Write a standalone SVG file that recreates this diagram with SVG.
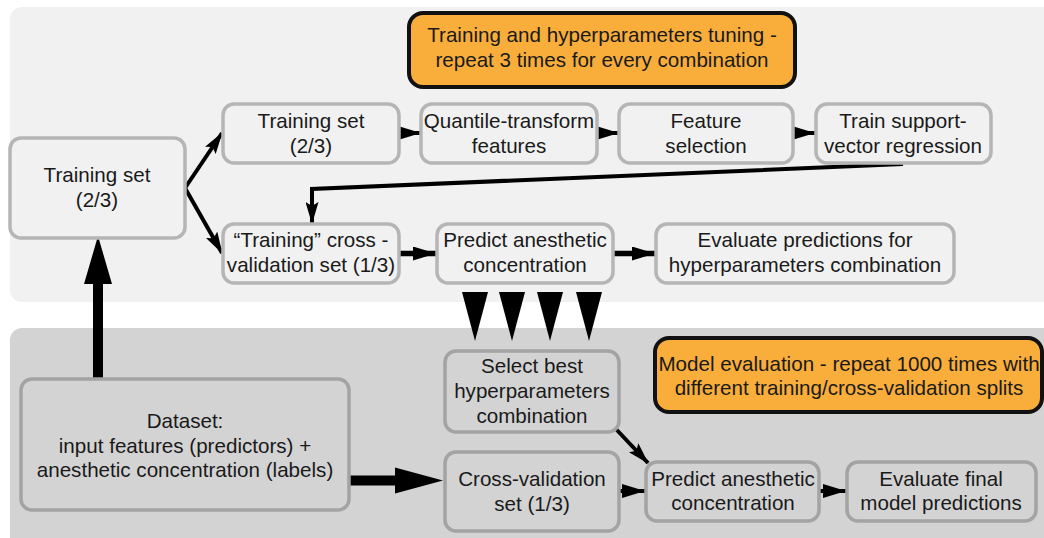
<svg xmlns="http://www.w3.org/2000/svg" width="1044" height="538" viewBox="0 0 1044 538">
  <defs>
    <style>
      text { font-family: "Liberation Sans", Arial, sans-serif; font-size: 20.6px; fill: #1a1a1a; text-anchor: middle; }
      .panel-top { fill: #f1f1f1; }
      .panel-bottom { fill: #d3d3d3; }
      .box-top { fill: #f1f1f1; stroke: #b5b5b5; stroke-width: 3.5; }
      .box-bottom { fill: #d3d3d3; stroke: #a3a3a3; stroke-width: 3.5; }
      .note { fill: #f9ae3c; stroke: #111111; stroke-width: 4; }
      .wire { fill: none; stroke: #000000; stroke-width: 4; }
      .wire-mid { fill: none; stroke: #000000; stroke-width: 5.5; }
      .solid { fill: #000000; stroke: none; }
    </style>
    <marker id="stealth" markerUnits="userSpaceOnUse" markerWidth="22" markerHeight="13" refX="21" refY="6.5" orient="auto">
      <path d="M0,0 L22,6.5 L0,13 L4,6.5 z" fill="#000"/>
    </marker>
    <marker id="tri" markerUnits="userSpaceOnUse" markerWidth="23" markerHeight="14" refX="23" refY="7" orient="auto">
      <path d="M0,0 L23,7 L0,14 z" fill="#000"/>
    </marker>
  </defs>

  <!-- background panels -->
  <rect class="panel-top" x="10" y="7" width="1060" height="295" rx="12"/>
  <rect class="panel-bottom" x="10" y="328" width="1060" height="240" rx="12"/>

  <!-- connectors -->
  <g id="connectors">
    <!-- dataset up to training set -->
    <rect class="solid" x="93" y="282" width="10" height="98"/>
    <polygon class="solid" points="84,284 112,284 98,236"/>
    <!-- dataset to cross-validation set -->
    <rect class="solid" x="348" y="475.5" width="50" height="10"/>
    <polygon class="solid" points="395,467.5 395,493.5 443,480.5"/>
    <!-- split of training set -->
    <line class="wire" x1="185" y1="188" x2="222" y2="133" marker-end="url(#stealth)"/>
    <line class="wire" x1="185" y1="188" x2="222" y2="253" marker-end="url(#stealth)"/>
    <!-- top pipeline -->
    <line class="wire" x1="399" y1="133" x2="421" y2="133" marker-end="url(#tri)"/>
    <line class="wire" x1="597" y1="133" x2="619" y2="133" marker-end="url(#tri)"/>
    <line class="wire" x1="793" y1="133" x2="815" y2="133" marker-end="url(#tri)"/>
    <!-- trained model back to cross-validation -->
    <polyline class="wire" points="903,164 312,189 312,223" marker-end="url(#stealth)"/>
    <!-- second row -->
    <line class="wire-mid" x1="400" y1="253.5" x2="436" y2="253.5" marker-end="url(#tri)"/>
    <line class="wire-mid" x1="613" y1="253.5" x2="655" y2="253.5" marker-end="url(#tri)"/>
    <!-- repeated results into selection -->
    <polygon class="solid" points="462,292 488,292 475,341"/>
    <polygon class="solid" points="499,292 525,292 512,341"/>
    <polygon class="solid" points="537,292 563,292 550,341"/>
    <polygon class="solid" points="576,292 602,292 589,341"/>
    <!-- evaluation row -->
    <line class="wire" x1="615" y1="428" x2="648" y2="463" marker-end="url(#stealth)"/>
    <line class="wire" x1="619" y1="491" x2="645" y2="491" marker-end="url(#tri)"/>
    <line class="wire" x1="820" y1="491" x2="846" y2="491" marker-end="url(#tri)"/>
  </g>

  <!-- nodes -->
  <g id="note-tuning">
    <rect class="note" x="409" y="13" width="386" height="74" rx="14"/>
    <text x="602" y="42">Training and hyperparameters tuning -</text>
    <text x="602" y="67">repeat 3 times for every combination</text>
  </g>

  <g id="training-set-outer">
    <rect class="box-top" x="10" y="138" width="175" height="100" rx="11"/>
    <text x="97" y="182">Training set</text>
    <text x="97" y="207">(2/3)</text>
  </g>

  <g id="training-set-inner">
    <rect class="box-top" x="223" y="104" width="176" height="59" rx="11"/>
    <text x="311" y="128">Training set</text>
    <text x="311" y="153">(2/3)</text>
  </g>

  <g id="quantile-transform">
    <rect class="box-top" x="421" y="104" width="176" height="59" rx="11"/>
    <text x="509" y="128">Quantile-transform</text>
    <text x="509" y="153">features</text>
  </g>

  <g id="feature-selection">
    <rect class="box-top" x="619" y="104" width="174" height="59" rx="11"/>
    <text x="706" y="128">Feature</text>
    <text x="706" y="153">selection</text>
  </g>

  <g id="train-svr">
    <rect class="box-top" x="816" y="104" width="175" height="59" rx="11"/>
    <text x="903" y="128">Train support-</text>
    <text x="903" y="153">vector regression</text>
  </g>

  <g id="training-cv-set">
    <rect class="box-top" x="223" y="224" width="176" height="59" rx="11"/>
    <text x="311" y="247">“Training” cross -</text>
    <text x="311" y="272">validation set (1/3)</text>
  </g>

  <g id="predict-tuning">
    <rect class="box-top" x="437" y="224" width="176" height="59" rx="11"/>
    <text x="525" y="247">Predict anesthetic</text>
    <text x="525" y="272">concentration</text>
  </g>

  <g id="evaluate-tuning">
    <rect class="box-top" x="656" y="224" width="298" height="59" rx="11"/>
    <text x="805" y="247">Evaluate predictions for</text>
    <text x="805" y="272">hyperparameters combination</text>
  </g>

  <g id="select-best">
    <rect class="box-bottom" x="445" y="351" width="174" height="81" rx="11"/>
    <text x="532" y="373">Select best</text>
    <text x="532" y="398">hyperparameters</text>
    <text x="532" y="423">combination</text>
  </g>

  <g id="note-evaluation">
    <rect class="note" x="655" y="338" width="387" height="74" rx="14"/>
    <text x="849" y="371">Model evaluation - repeat 1000 times with</text>
    <text x="849" y="395">different training/cross-validation splits</text>
  </g>

  <g id="dataset">
    <rect class="box-bottom" x="21" y="379" width="328" height="131" rx="11"/>
    <text x="185" y="428">Dataset:</text>
    <text x="185" y="453">input features (predictors) +</text>
    <text x="185" y="477">anesthetic concentration (labels)</text>
  </g>

  <g id="cv-set">
    <rect class="box-bottom" x="445" y="452" width="174" height="79" rx="11"/>
    <text x="532" y="486">Cross-validation</text>
    <text x="532" y="511">set (1/3)</text>
  </g>

  <g id="predict-final">
    <rect class="box-bottom" x="646" y="462" width="173" height="59" rx="11"/>
    <text x="733" y="486">Predict anesthetic</text>
    <text x="733" y="510">concentration</text>
  </g>

  <g id="evaluate-final">
    <rect class="box-bottom" x="847" y="462" width="189" height="59" rx="11"/>
    <text x="941" y="486">Evaluate final</text>
    <text x="941" y="510">model predictions</text>
  </g>
</svg>
